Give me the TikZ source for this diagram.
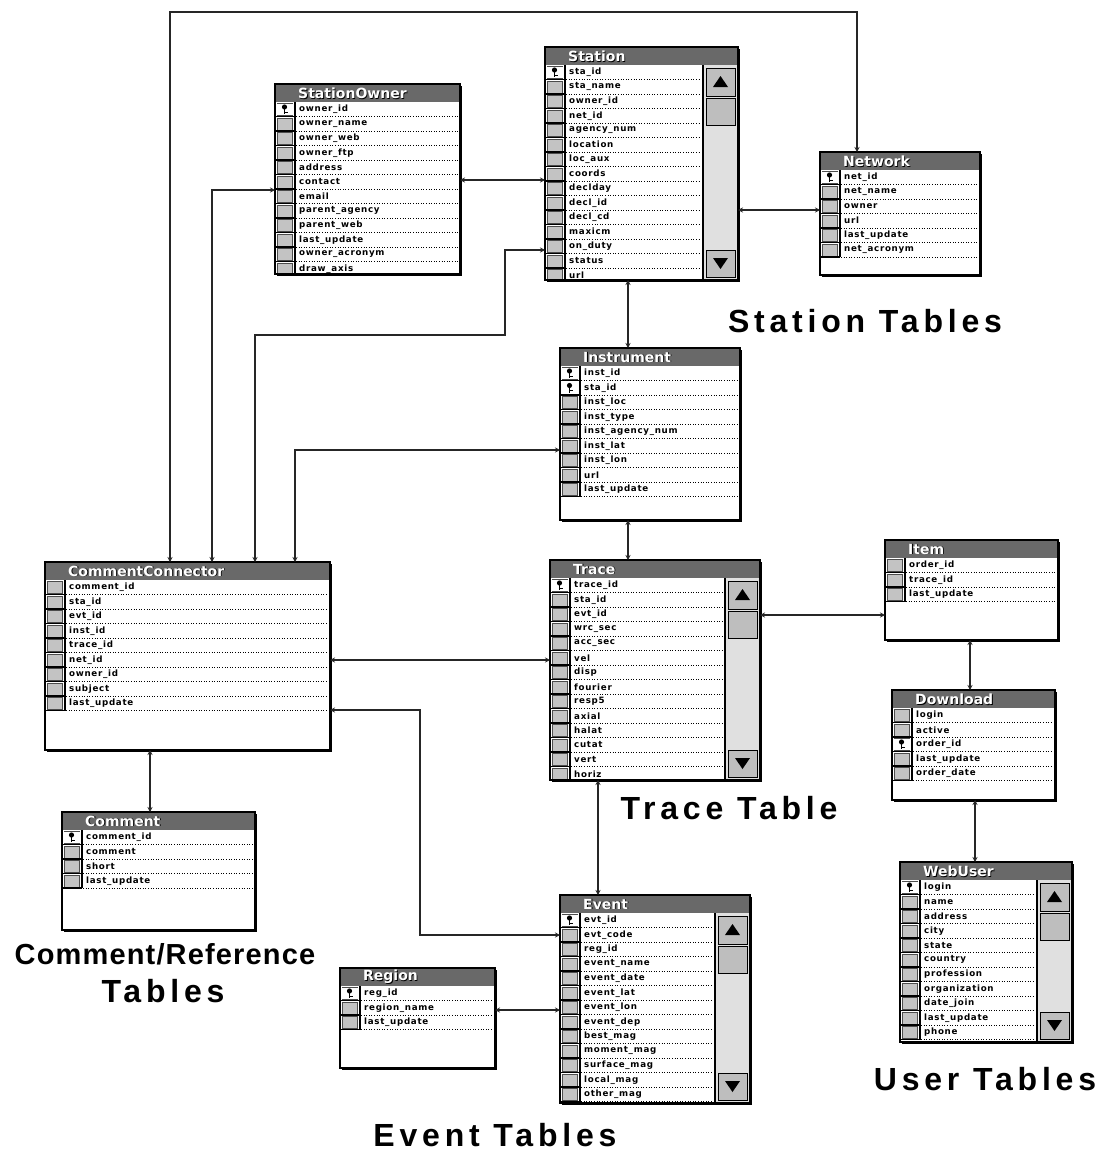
\documentclass[tikz,border=0pt]{standalone}
\usepackage{fontspec}
\setmainfont{DejaVu Sans}
\newfontfamily\fieldfont{DejaVu Sans}[LetterSpace=8]
\newfontfamily\titlefont{DejaVu Sans}
\newfontfamily\labelfont{Liberation Sans}[LetterSpace=15]
\newfontfamily\labelfontc{Liberation Sans}[LetterSpace=4]
\usetikzlibrary{arrows.meta,calc}
\definecolor{titlegray}{RGB}{105,105,105}
\definecolor{gutgray}{RGB}{195,195,195}
\definecolor{trackgray}{RGB}{224,224,224}
\definecolor{btngray}{RGB}{190,190,190}
\def\rowh{14.5}
\tikzset{
  tblbox/.style={rectangle, draw=none, fill=white, inner sep=0pt, outer sep=0pt},
  fieldtxt/.style={anchor=west, inner sep=0pt, font={\fieldfont\bfseries\fontsize{8.7}{10}\selectfont}},
  titletxt/.style={anchor=west, inner sep=0pt, font={\titlefont\bfseries\fontsize{14}{16}\selectfont}},
  conn/.style={line width=2.2pt, draw=black!85, arrows={Stealth[length=5pt,width=5pt]-Stealth[length=5pt,width=5pt]}},
  lbl/.style={inner sep=0pt, font={\labelfont\bfseries\fontsize{32}{36}\selectfont}},
  lblc/.style={inner sep=0pt, font={\labelfontc\bfseries\fontsize{29}{32}\selectfont}},
}
% #1 name #2 x #3 y #4 w #5 h #6 title #7 fields #8 key rows #9 scrollbar
\newcommand\dbtable[9]{%
  \node[tblbox, minimum width=#4pt, minimum height=#5pt, anchor=north west] (#1) at (#2,#3) {};
  \begin{scope}[shift={(#1.north west)}]
    \ifnum#9=1 \def\sbw{35}\else\def\sbw{0}\fi
    \begin{scope}
      \clip (0,18) rectangle ({#4-\sbw},#5);
      \foreach \f [count=\i] in {#7} {
        \pgfmathsetmacro\ytop{18+(\i-1)*\rowh}
        \filldraw[fill=gutgray, draw=black!70, line width=0.4pt] (2,{\ytop+1.5}) rectangle (17.5,{\ytop+\rowh-1.2});
        \draw[line width=1.1pt] (0,{\ytop+\rowh}) -- (20,{\ytop+\rowh});
        \draw[line width=1.4pt] (20,\ytop) -- (20,{\ytop+\rowh});
        \draw[dotted, line width=0.6pt] (21,{\ytop+\rowh}) -- ({#4-\sbw-2},{\ytop+\rowh});
        \node[fieldtxt] at (24,{\ytop+\rowh/2}) {\f};
      }
      \foreach \k in {#8} {
        \ifnum\k>0
          \pgfmathsetmacro\ky{18+(\k-1)*\rowh}
          \fill[white] (2,{\ky+1.5}) rectangle (17.5,{\ky+\rowh-1.2});
          \fill (9.5,{\ky+5}) circle (2.6);
          \draw[line width=1.2pt] (9.5,{\ky+5}) -- (9.5,{\ky+12});
          \draw[line width=1pt] (9.5,{\ky+10}) -- (12.5,{\ky+10});
        \fi
      }
    \end{scope}
    \ifnum#9=1
      \fill[trackgray] ({#4-35},18) rectangle (#4,#5);
      \draw[line width=1.2pt] ({#4-35},18) -- ({#4-35},#5);
      \filldraw[fill=btngray, draw=black, line width=0.8pt] ({#4-32},21) rectangle ({#4-3},49);
      \fill ({#4-17.5},29) -- ({#4-25},40) -- ({#4-10},40) -- cycle;
      \filldraw[fill=btngray, draw=black, line width=0.8pt] ({#4-32},51) rectangle ({#4-3},78);
      \filldraw[fill=btngray, draw=black, line width=0.8pt] ({#4-32},{#5-30}) rectangle ({#4-3},{#5-3});
      \fill ({#4-25},{#5-22}) -- ({#4-10},{#5-22}) -- ({#4-17.5},{#5-11}) -- cycle;
    \fi
    \fill[titlegray] (0,0) rectangle (#4,18);
    \node[titletxt, text=black] at (23.8,9.8) {#6};
    \node[titletxt, text=white] at (23,9) {#6};
    \draw[line width=1.5pt] (0,0) rectangle (#4,#5);
    \draw[line width=2pt] ({#4+1.4},2) -- ({#4+1.4},{#5+1.4}) -- (2,{#5+1.4});
  \end{scope}
}
\begin{document}
\begin{tikzpicture}[x=1pt,y=-1pt]
\useasboundingbox[fill=white] (0,0) rectangle (1109,1152);

\dbtable{so}{275}{84}{185}{190}{StationOwner}{owner\_id,owner\_name,owner\_web,owner\_ftp,address,contact,email,parent\_agency,parent\_web,last\_update,owner\_acronym,draw\_axis}{1}{0}
\dbtable{st}{545}{47}{193}{233}{Station}{sta\_id,sta\_name,owner\_id,net\_id,agency\_num,location,loc\_aux,coords,declday,decl\_id,decl\_cd,maxicm,on\_duty,status,url}{1}{1}
\dbtable{net}{820}{152}{160}{123}{Network}{net\_id,net\_name,owner,url,last\_update,net\_acronym}{1}{0}
\dbtable{inst}{560}{348}{180}{172}{Instrument}{inst\_id,sta\_id,inst\_loc,inst\_type,inst\_agency\_num,inst\_lat,inst\_lon,url,last\_update}{1,2}{0}
\dbtable{cc}{45}{562}{285}{188}{CommentConnector}{comment\_id,sta\_id,evt\_id,inst\_id,trace\_id,net\_id,owner\_id,subject,last\_update}{0}{0}
\dbtable{tr}{550}{560}{210}{220}{Trace}{trace\_id,sta\_id,evt\_id,wrc\_sec,acc\_sec,vel,disp,fourier,resp5,axial,halat,cutat,vert,horiz}{1}{1}
\dbtable{item}{885}{540}{173}{100}{Item}{order\_id,trace\_id,last\_update}{0}{0}
\dbtable{dl}{892}{690}{163}{110}{Download}{login,active,order\_id,last\_update,order\_date}{3}{0}
\dbtable{wu}{900}{862}{172}{180}{WebUser}{login,name,address,city,state,country,profession,organization,date\_join,last\_update,phone}{1}{1}
\dbtable{cm}{62}{812}{193}{118}{Comment}{comment\_id,comment,short,last\_update}{1}{0}
\dbtable{reg}{340}{968}{155}{100}{Region}{reg\_id,region\_name,last\_update}{1}{0}
\dbtable{ev}{560}{895}{190}{208}{Event}{evt\_id,evt\_code,reg\_id,event\_name,event\_date,event\_lat,event\_lon,event\_dep,best\_mag,moment\_mag,surface\_mag,local\_mag,other\_mag}{1}{1}

% bend points
\coordinate (b3) at (505,335);
\coordinate (b14) at (420,935);

% connectors
\draw[conn] ([xshift=125pt]cc.north west) |- ([xshift=37pt,yshift=140pt]net.north west) -- ([xshift=37pt]net.north west);
\draw[conn] ([xshift=167pt]cc.north west) |- ([yshift=-106pt]so.north west);
\draw[conn] ([xshift=210pt]cc.north west) |- (b3) |- ([yshift=-203pt]st.north west);
\draw[conn] ([xshift=250pt]cc.north west) |- ([yshift=-102pt]inst.north west);
\draw[conn] ([yshift=-96pt]so.north east) -- ([yshift=-133pt]st.north west);
\draw[conn] ([yshift=-163pt]st.north east) -- ([yshift=-58pt]net.north west);
\draw[conn] ([xshift=83pt]st.south west) -- ([xshift=68pt]inst.north west);
\draw[conn] ([xshift=68pt]inst.south west) -- ([xshift=78pt]tr.north west);
\draw[conn] ([yshift=-98pt]cc.north east) -- ([yshift=-100pt]tr.north west);
\draw[conn] ([yshift=-55pt]tr.north east) -- ([yshift=-75pt]item.north west);
\draw[conn] ([xshift=85pt]item.south west) -- ([xshift=78pt]dl.north west);
\draw[conn] ([xshift=83pt]dl.south west) -- ([xshift=75pt]wu.north west);
\draw[conn] ([xshift=105pt]cc.south west) -- ([xshift=88pt]cm.north west);
\draw[conn] ([yshift=-148pt]cc.north east) -| (b14) -- ([yshift=-40pt]ev.north west);
\draw[conn] ([xshift=48pt]tr.south west) -- ([xshift=38pt]ev.north west);
\draw[conn] ([yshift=-42pt]reg.north east) -- ([yshift=-115pt]ev.north west);

% labels
\node[lbl] (lstation) at (865,321) {Station Tables};
\node[lbl] (ltrace) at (729,808) {Trace Table};
\node[lblc] (lcomment) at (165,954) {Comment/Reference};
\node[lbl] (ltables) at (163,991) {Tables};
\node[lbl] (levent) at (495,1135) {Event Tables};
\node[lbl] (luser) at (985,1079) {User Tables};
\end{tikzpicture}
\end{document}
